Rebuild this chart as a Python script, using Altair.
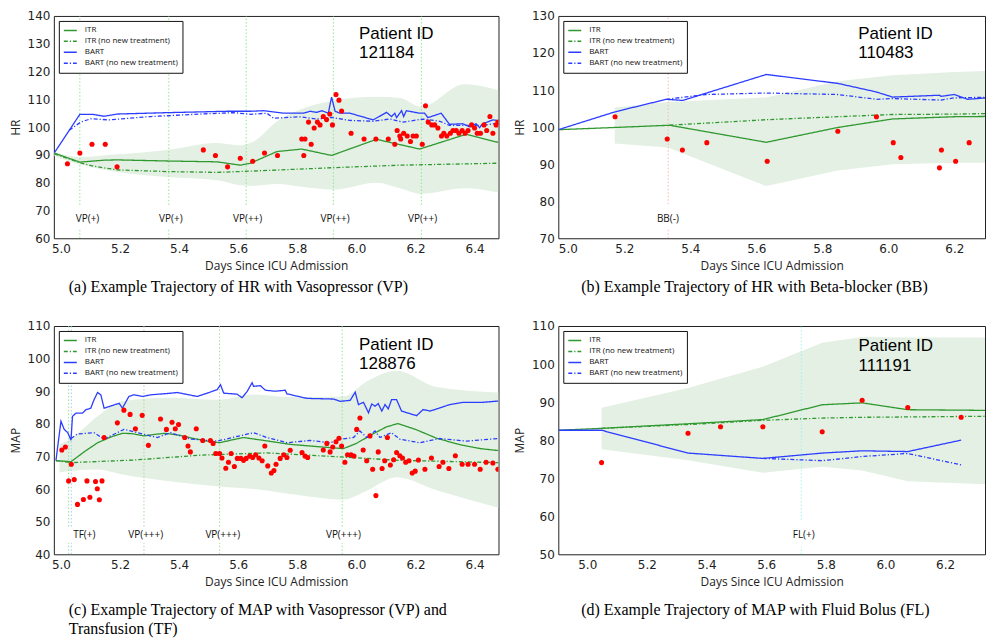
import altair as alt
import pandas as pd

SERIES = ["ITR", "ITR (no new treatment)", "BART", "BART (no new treatment)"]
SERIES_COLORS = ["#2f982f", "#2f982f", "#2c3dff", "#2c3dff"]
SERIES_DASH = [[1, 0], [4, 2, 1.2, 2], [1, 0], [4, 2, 1.2, 2]]
X_TITLE = "Days Since ICU Admission"

# ---------------- panel (a): HR with Vasopressor ----------------
A_TICKS_X = [5.0, 5.2, 5.4, 5.6, 5.8, 6.0, 6.2, 6.4]
A_TICKS_Y = [60, 70, 80, 90, 100, 110, 120, 130, 140]
A_ITR_X = [4.978, 5.064, 5.146, 5.191, 5.36, 5.529, 5.607, 5.641, 5.731, 5.815, 5.916, 6.068, 6.214, 6.371, 6.48]
A_ITR_Y = [90.6, 87.4, 88.1, 88.2, 87.8, 87.5, 86.3, 87.0, 91.2, 92.1, 89.8, 95.6, 92.1, 97.4, 94.5]
A_ITRNT_X = [4.978, 5.064, 5.112, 5.191, 5.36, 5.529, 5.675, 5.922, 6.147, 6.48]
A_ITRNT_Y = [90.4, 87.2, 85.9, 84.6, 84.0, 83.7, 84.3, 85.4, 86.3, 87.0]
A_BART_X = [4.978, 5.064, 5.107, 5.146, 5.191, 5.36, 5.562, 5.641, 5.686, 5.753, 5.821, 5.843, 5.866,
            5.883, 5.905, 5.916, 5.928, 5.944, 5.978, 6.057, 6.102, 6.119, 6.13, 6.136, 6.153, 6.16,
            6.169, 6.214, 6.231, 6.242, 6.287, 6.315, 6.36, 6.383, 6.405, 6.417, 6.428, 6.462, 6.481]
A_BART_Y = [90.8, 104.6, 104.6, 103.9, 104.7, 105.2, 105.7, 105.7, 105.9, 105.0, 105.0, 105.7, 105.3,
            105.9, 105.0, 110.8, 105.7, 105.0, 105.0, 102.6, 105.3, 103.8, 105.0, 103.4, 105.9, 103.8,
            105.9, 105.0, 105.0, 103.4, 105.0, 101.0, 101.2, 100.1, 101.2, 99.8, 101.2, 102.6, 102.3]
A_BARTNT_X = [5.028, 5.067, 5.101, 5.163, 5.304, 5.472, 5.585, 5.641, 5.697, 5.72, 5.81, 5.866, 5.916,
              5.978, 6.057, 6.113, 6.158, 6.225, 6.282, 6.315, 6.428, 6.479]
A_BARTNT_Y = [98.9, 101.8, 103.0, 102.6, 103.8, 104.7, 105.2, 104.6, 105.0, 103.2, 103.7, 102.9, 103.5,
              102.4, 102.1, 102.9, 101.8, 102.9, 102.1, 100.6, 100.6, 101.4]
A_BAND_X = [4.978, 5.064, 5.191, 5.36, 5.529, 5.607, 5.652, 5.731, 5.815, 5.922, 6.068, 6.147, 6.22, 6.366, 6.48]
A_BAND_HI = [91.0, 89.2, 90.2, 91.8, 94.3, 93.4, 94.8, 102.0, 106.5, 109.5, 110.9, 110.5, 107.3, 115.4, 113.3]
A_BAND_LO = [89.5, 86.5, 83.8, 82.0, 80.9, 79.1, 78.9, 79.5, 78.5, 77.5, 80.0, 78.0, 76.0, 78.0, 76.5]
A_PTS_X = [5.022, 5.064, 5.105, 5.15, 5.19, 5.482, 5.523, 5.564, 5.607, 5.649, 5.689, 5.733, 5.815, 5.826,
           5.822, 5.838, 5.847, 5.857, 5.868, 5.877, 5.888, 5.899, 5.91, 5.919, 5.931, 5.941, 5.95, 5.982,
           6.026, 6.066, 6.108, 6.13, 6.138, 6.147, 6.15, 6.16, 6.172, 6.183, 6.192, 6.203, 6.223, 6.234,
           6.243, 6.255, 6.265, 6.276, 6.288, 6.296, 6.306, 6.318, 6.327, 6.338, 6.347, 6.358, 6.368,
           6.378, 6.39, 6.4, 6.409, 6.42, 6.432, 6.441, 6.452, 6.462, 6.473, 6.479]
A_PTS_Y = [86.8, 90.7, 93.8, 93.8, 85.7, 91.8, 89.8, 85.7, 88.8, 87.7, 90.7, 89.8, 95.7, 95.7,
           89.8, 101.8, 93.8, 99.7, 101.8, 100.8, 103.8, 102.7, 104.7, 100.8, 111.7, 109.7, 105.8, 97.8,
           95.7, 95.7, 95.7, 93.8, 98.8, 96.8, 95.7, 97.8, 96.8, 94.8, 96.8, 96.8, 93.8, 107.7,
           101.8, 100.8, 100.8, 99.7, 96.8, 97.8, 96.8, 97.8, 98.8, 98.8, 97.8, 98.8, 97.8,
           98.8, 100.8, 99.7, 97.8, 97.8, 100.8, 98.8, 103.8, 97.8, 100.8, 101.8]
A_RULE_X = [5.064, 5.365, 5.627, 5.922, 6.22]
A_RULE_C = ["#8fe88f"] * 5
A_RULE_SEGS = [(72.0, 140.0), (60.0, 63.5)]
A_LAB_X = [5.090, 5.372, 5.632, 5.928, 6.224]
A_LAB_T = ["VP(+)", "VP(+)", "VP(++)", "VP(++)", "VP(++)"]
A_LAB_Y = 67.0
A_PID = ["Patient ID", "121184"]
A_PID_X = 6.009
A_PID_Y = [133.6, 126.6]

# ---------------- panel (b): HR with Beta-blocker ----------------
B_TICKS_X = [5.0, 5.2, 5.4, 5.6, 5.8, 6.0, 6.2]
B_TICKS_Y = [70, 80, 90, 100, 110, 120, 130]
B_ITR_X = [5.0, 5.171, 5.337, 5.63, 5.847, 6.013, 6.2, 6.33]
B_ITR_Y = [99.3, 99.9, 100.5, 95.9, 99.9, 102.2, 102.8, 102.9]
B_ITRNT_X = [5.337, 5.63, 5.847, 6.013, 6.2, 6.33]
B_ITRNT_Y = [100.5, 102.0, 102.8, 103.4, 103.5, 103.7]
B_BART_X = [5.0, 5.171, 5.327, 5.377, 5.63, 5.847, 5.963, 6.013, 6.155, 6.16, 6.2, 6.24, 6.33]
B_BART_Y = [99.3, 104.1, 107.5, 107.2, 114.2, 111.8, 109.5, 108.1, 108.6, 108.3, 108.8, 107.5, 108.1]
B_BARTNT_X = [5.327, 5.448, 5.63, 5.847, 5.963, 6.013, 6.16, 6.2, 6.33]
B_BARTNT_Y = [107.5, 108.8, 109.2, 108.8, 107.5, 107.7, 107.3, 107.9, 108.1]
B_BAND_X = [5.171, 5.332, 5.63, 5.847, 6.013, 6.2, 6.33]
B_BAND_HI = [105.3, 106.8, 108.0, 112.4, 114.0, 114.9, 115.2]
B_BAND_LO = [95.6, 94.5, 84.1, 88.3, 90.0, 90.4, 90.4]
B_PTS_X = [5.172, 5.33, 5.376, 5.45, 5.633, 5.847, 5.964, 6.015, 6.038, 6.155, 6.161, 6.204, 6.245]
B_PTS_Y = [102.8, 96.8, 93.8, 95.8, 90.8, 98.9, 102.8, 95.8, 91.8, 89.0, 93.8, 90.8, 95.8]
B_RULE_X = [5.333]
B_RULE_C = ["#ffb3b3"]
B_RULE_SEGS = [(79.2, 130.0), (70.0, 72.5)]
B_LAB_X = [5.332]
B_LAB_T = ["BB(-)"]
B_LAB_Y = 75.2
B_PID = ["Patient ID", "110483"]
B_PID_X = 5.909
B_PID_Y = [125.2, 120.0]

# ---------------- panel (c): MAP with Vasopressor and Transfusion ----------------
C_TICKS_X = [5.0, 5.2, 5.4, 5.6, 5.8, 6.0, 6.2, 6.4]
C_TICKS_Y = [40, 50, 60, 70, 80, 90, 100, 110]
C_ITR_X = [4.983, 5.034, 5.08, 5.124, 5.17, 5.208, 5.24, 5.281, 5.32, 5.354, 5.40, 5.45, 5.50, 5.537,
           5.58, 5.618, 5.68, 5.776, 5.87, 5.956, 6.0, 6.05, 6.10, 6.14, 6.2, 6.271, 6.35, 6.42, 6.481]
C_ITR_Y = [68.7, 68.4, 71.5, 74.2, 76.0, 77.1, 77.0, 76.3, 76.8, 77.1, 76.5, 75.5, 74.6, 74.2,
           75.1, 75.8, 75.0, 73.7, 73.0, 72.4, 74.0, 76.6, 79.0, 80.1, 78.3, 75.6, 73.6, 72.4, 71.8]
C_ITRNT_X = [4.983, 5.034, 5.247, 5.472, 5.697, 5.956, 6.147, 6.481]
C_ITRNT_Y = [68.7, 68.1, 68.9, 70.4, 71.1, 69.8, 68.8, 68.1]
C_BART_X = [4.983, 5.0, 5.011, 5.023, 5.034, 5.039, 5.051, 5.073, 5.084, 5.101, 5.112, 5.124, 5.135,
            5.146, 5.18, 5.197, 5.208, 5.23, 5.247, 5.276, 5.304, 5.36, 5.394, 5.461, 5.495, 5.529,
            5.54, 5.551, 5.596, 5.613, 5.63, 5.647, 5.652, 5.675, 5.692, 5.725, 5.759, 5.765, 5.833,
            5.923, 5.945, 5.979, 5.996, 6.007, 6.024, 6.041, 6.052, 6.063, 6.074, 6.086, 6.097, 6.108,
            6.119, 6.136, 6.153, 6.204, 6.226, 6.249, 6.283, 6.316, 6.361, 6.428, 6.481]
C_BART_Y = [68.7, 80.8, 78.3, 77.3, 75.0, 82.3, 83.3, 83.3, 84.3, 84.8, 87.4, 89.6, 88.9,
            84.8, 85.8, 86.3, 84.8, 88.4, 88.9, 88.4, 88.9, 89.3, 89.6, 88.4, 89.4, 90.5,
            92.0, 89.4, 89.1, 88.0, 89.9, 92.6, 91.5, 91.7, 90.3, 90.0, 90.3, 89.2, 87.8,
            87.6, 86.9, 87.2, 89.7, 85.9, 86.6, 83.4, 86.1, 85.4, 86.2, 83.9, 85.9, 84.6,
            87.4, 87.4, 83.9, 82.5, 84.4, 83.9, 84.9, 85.9, 86.6, 86.6, 87.0]
C_BARTNT_X = [5.034, 5.056, 5.112, 5.146, 5.213, 5.326, 5.371, 5.439, 5.529, 5.652, 5.697, 5.765, 5.843,
              5.911, 5.945, 5.99, 6.012, 6.035, 6.063, 6.08, 6.119, 6.147, 6.214, 6.282, 6.372, 6.481]
C_BARTNT_Y = [75.5, 76.9, 77.3, 75.3, 78.3, 75.8, 77.3, 75.3, 74.7, 77.3, 75.8, 74.2, 74.9,
              74.2, 75.3, 75.8, 77.8, 75.8, 77.8, 75.8, 77.3, 75.3, 74.2, 75.5, 74.7, 75.5]
C_BAND_X = [4.995, 5.034, 5.124, 5.208, 5.36, 5.537, 5.652, 5.776, 5.956, 6.035, 6.136, 6.271, 6.481]
C_BAND_HI = [73.7, 75.5, 82.3, 86.9, 88.0, 87.4, 89.0, 88.2, 88.4, 93.0, 96.3, 91.3, 89.6]
C_BAND_LO = [65.1, 65.6, 66.0, 64.5, 62.5, 60.8, 60.0, 58.5, 56.8, 59.5, 63.6, 59.6, 54.3]
C_PTS_X = [5.003, 5.015, 5.026, 5.035, 5.045, 5.056, 5.076, 5.088, 5.098, 5.117, 5.123, 5.13, 5.139,
           5.146, 5.191, 5.213, 5.234, 5.252, 5.275, 5.296, 5.316, 5.337, 5.357, 5.376, 5.387, 5.398,
           5.419, 5.43, 5.438, 5.458, 5.48, 5.506, 5.515, 5.524, 5.537, 5.545, 5.558, 5.567, 5.576,
           5.587, 5.597, 5.609, 5.618, 5.627, 5.639, 5.649, 5.659, 5.67, 5.681, 5.69, 5.7, 5.712,
           5.721, 5.728, 5.742, 5.754, 5.765, 5.776, 5.816, 5.826, 5.835, 5.888, 5.9, 5.911, 5.92,
           5.931, 5.941, 5.95, 5.961, 5.97, 5.982, 5.992, 6.001, 6.012, 6.023, 6.035, 6.046, 6.055,
           6.066, 6.074, 6.087, 6.096, 6.105, 6.115, 6.126, 6.136, 6.147, 6.156, 6.167, 6.178, 6.189,
           6.199, 6.21, 6.232, 6.254, 6.28, 6.293, 6.313, 6.335, 6.358, 6.378, 6.4, 6.419, 6.439,
           6.462, 6.479]
C_PTS_Y = [72.0, 72.9, 62.5, 67.6, 62.9, 55.3, 56.8, 62.5, 57.5, 62.3, 60.1, 56.7, 62.5,
           75.8, 80.3, 84.2, 82.9, 78.5, 82.6, 73.4, 93.2, 81.5, 78.3, 80.5, 78.5, 79.8,
           75.8, 73.2, 71.4, 78.5, 74.9, 74.9, 74.0, 70.9, 70.9, 69.5, 66.4, 68.2, 70.9,
           66.9, 69.4, 69.4, 68.8, 69.4, 70.1, 69.7, 70.5, 69.5, 68.7, 73.2, 67.1, 64.9,
           65.7, 67.6, 69.4, 70.5, 69.7, 71.9, 71.2, 70.1, 69.7, 72.0, 74.0, 71.4, 72.9,
           74.5, 75.6, 73.2, 68.2, 70.5, 70.5, 70.1, 78.3, 81.8, 72.0, 68.7, 76.3, 66.1,
           58.0, 71.4, 66.3, 68.7, 75.8, 67.4, 69.0, 71.2, 70.2, 69.5, 68.2, 68.7, 64.9,
           65.5, 68.9, 66.1, 69.5, 66.9, 68.2, 66.3, 70.2, 67.6, 67.6, 67.6, 66.1, 68.2,
           68.0, 66.1]
C_RULE_X = [5.026, 5.035, 5.281, 5.537, 5.952]
C_RULE_C = ["#8fe88f", "#a8c8ff", "#a8d8a0", "#a8d8a0", "#8fe88f"]
C_RULE_SEGS = [(48.5, 110.0), (40.0, 43.5)]
C_LAB_X = [5.079, 5.287, 5.548, 5.956]
C_LAB_T = ["TF(+)", "VP(+++)", "VP(+++)", "VP(+++)"]
C_LAB_Y = 45.9
C_PID = ["Patient ID", "128876"]
C_PID_X = 6.009
C_PID_Y = [104.1, 98.3]

# ---------------- panel (d): MAP with Fluid Bolus ----------------
D_TICKS_X = [5.0, 5.2, 5.4, 5.6, 5.8, 6.0, 6.2]
D_TICKS_Y = [50, 60, 70, 80, 90, 100, 110]
D_ITR_X = [4.904, 5.048, 5.338, 5.589, 5.788, 5.922, 6.075, 6.372]
D_ITR_Y = [82.6, 83.1, 84.3, 85.4, 89.3, 89.8, 88.0, 87.8]
D_ITRNT_X = [5.048, 5.338, 5.589, 5.788, 5.922, 6.075, 6.372]
D_ITRNT_Y = [83.1, 84.1, 85.2, 85.8, 86.0, 86.1, 86.3]
D_BART_X = [4.904, 5.048, 5.338, 5.589, 5.788, 5.922, 6.075, 6.254]
D_BART_Y = [82.6, 82.6, 76.6, 75.2, 76.6, 77.2, 77.0, 80.0]
D_BARTNT_X = [5.589, 5.788, 5.922, 6.075, 6.254]
D_BARTNT_Y = [75.2, 74.6, 75.7, 76.5, 73.5]
D_BAND_X = [5.048, 5.338, 5.589, 5.788, 5.922, 6.075, 6.372]
D_BAND_HI = [88.5, 93.7, 99.3, 105.6, 107.1, 107.0, 107.0]
D_BAND_LO = [77.6, 74.7, 71.4, 73.0, 72.0, 69.2, 68.3]
D_PTS_X = [5.048, 5.338, 5.447, 5.589, 5.788, 5.922, 6.075, 6.254]
D_PTS_Y = [74.1, 81.8, 83.5, 83.5, 82.2, 90.5, 88.6, 86.0]
D_RULE_X = [5.718]
D_RULE_C = ["#a6f0f0"]
D_RULE_SEGS = [(59.0, 110.0), (50.0, 52.0)]
D_LAB_X = [5.726]
D_LAB_T = ["FL(+)"]
D_LAB_Y = 55.0
D_PID = ["Patient ID", "111191"]
D_PID_X = 5.91
D_PID_Y = [104.7, 99.5]


def series_df(itr_x, itr_y, itrnt_x, itrnt_y, bart_x, bart_y, bartnt_x, bartnt_y):
    rows = []
    for name, xs, ys in zip(SERIES, [itr_x, itrnt_x, bart_x, bartnt_x], [itr_y, itrnt_y, bart_y, bartnt_y]):
        for x, y in zip(xs, ys):
            rows.append({"day": x, "val": y, "series": name})
    return pd.DataFrame(rows)


def rules_df(xs, colors, segs):
    rows = []
    for x, c in zip(xs, colors):
        for lo, hi in segs:
            rows.append({"day": x, "val": lo, "val2": hi, "c": c})
    return pd.DataFrame(rows)


def build_panel(xdom, xticks, ydom, yticks, ytitle, width, height,
                band_x, band_lo, band_hi, band_interp, lines, pts_x, pts_y,
                rule_x, rule_c, rule_segs, lab_x, lab_t, lab_y,
                pid_t, pid_x, pid_y, caption, cap_dx, cap_offset):
    xscale = alt.Scale(domain=xdom, nice=False, zero=False)
    yscale = alt.Scale(domain=ydom, nice=False, zero=False)
    xaxis = alt.Axis(values=xticks, format=".1f", title=X_TITLE, labelPadding=5, titlePadding=6)
    yaxis = alt.Axis(values=yticks, title=ytitle, labelPadding=4, titlePadding=5)
    X = alt.X("day:Q", scale=xscale, axis=xaxis)
    Y = alt.Y("val:Q", scale=yscale, axis=yaxis)

    band = alt.Chart(pd.DataFrame({"day": band_x, "val": band_lo, "val2": band_hi})).mark_area(
        color="#e3f0e3", opacity=1, interpolate=band_interp, clip=True
    ).encode(x=X, y=Y, y2="val2:Q")

    rules = alt.Chart(rules_df(rule_x, rule_c, rule_segs)).mark_rule(
        strokeDash=[1.5, 2], strokeWidth=1, clip=True
    ).encode(x=X, y=Y, y2="val2:Q", stroke=alt.Stroke("c:N", scale=None))

    labels = alt.Chart(pd.DataFrame({"day": lab_x, "val": [lab_y] * len(lab_x), "t": lab_t})).mark_text(
        font="Open Sans", fontSize=10, color="#111111", baseline="middle", align="center"
    ).encode(x=X, y=Y, text="t:N")

    leg = alt.Legend(
        title=None, orient="top-left", offset=5, symbolType="stroke", symbolSize=169,
        symbolStrokeWidth=1.5, labelFont="Open Sans", labelFontSize=8, labelColor="#111111",
        strokeColor="#111111", fillColor="white", padding=4, rowPadding=0, clipHeight=11,
        labelOffset=7, cornerRadius=0,
    )
    line_layer = alt.Chart(lines).mark_line(strokeWidth=1.3, clip=True).encode(
        x=X, y=Y,
        color=alt.Color("series:N", scale=alt.Scale(domain=SERIES, range=SERIES_COLORS), legend=leg),
        strokeDash=alt.StrokeDash("series:N", scale=alt.Scale(domain=SERIES, range=SERIES_DASH), legend=leg),
    )

    points = alt.Chart(pd.DataFrame({"day": pts_x, "val": pts_y})).mark_circle(
        color="#ff0000", size=26, opacity=1, clip=True
    ).encode(x=X, y=Y)

    pid = alt.Chart(pd.DataFrame({"day": [pid_x] * 2, "val": pid_y, "t": pid_t})).mark_text(
        font="Liberation Sans", fontSize=17, color="#000000", align="left", baseline="middle"
    ).encode(x=X, y=Y, text="t:N")

    return alt.layer(band, rules, labels, line_layer, points, pid).properties(
        width=width, height=height,
        title=alt.TitleParams(
            text=caption, orient="bottom", anchor="start", frame="group", dx=cap_dx,
            offset=cap_offset, font="Liberation Serif", fontSize=16, fontWeight="normal",
            color="#000000", lineHeight=19,
        ),
    )


pa = build_panel([4.976, 6.481], A_TICKS_X, [60, 140], A_TICKS_Y, "HR", 446, 223,
                 A_BAND_X, A_BAND_LO, A_BAND_HI, "monotone",
                 series_df(A_ITR_X, A_ITR_Y, A_ITRNT_X, A_ITRNT_Y, A_BART_X, A_BART_Y, A_BARTNT_X, A_BARTNT_Y),
                 A_PTS_X, A_PTS_Y, A_RULE_X, A_RULE_C, A_RULE_SEGS, A_LAB_X, A_LAB_T, A_LAB_Y,
                 A_PID, A_PID_X, A_PID_Y,
                 "(a) Example Trajectory of HR with Vasopressor (VP)", 15, 8)

pb = build_panel([5.0, 6.293], B_TICKS_X, [70, 130], B_TICKS_Y, "HR", 428, 223,
                 B_BAND_X, B_BAND_LO, B_BAND_HI, "linear",
                 series_df(B_ITR_X, B_ITR_Y, B_ITRNT_X, B_ITRNT_Y, B_BART_X, B_BART_Y, B_BARTNT_X, B_BARTNT_Y),
                 B_PTS_X, B_PTS_Y, B_RULE_X, B_RULE_C, B_RULE_SEGS, B_LAB_X, B_LAB_T, B_LAB_Y,
                 B_PID, B_PID_X, B_PID_Y,
                 "(b) Example Trajectory of HR with Beta-blocker (BB)", 23, 8)

pc = build_panel([4.976, 6.481], C_TICKS_X, [40, 110], C_TICKS_Y, "MAP", 446, 229,
                 C_BAND_X, C_BAND_LO, C_BAND_HI, "monotone",
                 series_df(C_ITR_X, C_ITR_Y, C_ITRNT_X, C_ITRNT_Y, C_BART_X, C_BART_Y, C_BARTNT_X, C_BARTNT_Y),
                 C_PTS_X, C_PTS_Y, C_RULE_X, C_RULE_C, C_RULE_SEGS, C_LAB_X, C_LAB_T, C_LAB_Y,
                 C_PID, C_PID_X, C_PID_Y,
                 ["(c) Example Trajectory of MAP with Vasopressor (VP) and", "Transfusion (TF)"], 15, 15)

pd_ = build_panel([4.903, 6.334], D_TICKS_X, [50, 110], D_TICKS_Y, "MAP", 428, 229,
                  D_BAND_X, D_BAND_LO, D_BAND_HI, "linear",
                  series_df(D_ITR_X, D_ITR_Y, D_ITRNT_X, D_ITRNT_Y, D_BART_X, D_BART_Y, D_BARTNT_X, D_BARTNT_Y),
                  D_PTS_X, D_PTS_Y, D_RULE_X, D_RULE_C, D_RULE_SEGS, D_LAB_X, D_LAB_T, D_LAB_Y,
                  D_PID, D_PID_X, D_PID_Y,
                  "(d) Example Trajectory of MAP with Fluid Bolus (FL)", 23, 15)

RES = dict(x="independent", y="independent", color="independent", strokeDash="independent")
row1 = alt.hconcat(pa, pb, spacing=13).resolve_scale(**RES)
row2 = alt.hconcat(pc, pd_, spacing=13).resolve_scale(**RES)

chart = alt.vconcat(row1, row2, spacing=23).resolve_scale(**RES).properties(
    padding={"left": 0, "top": 0, "right": 0, "bottom": 0}
).configure_view(
    stroke="#222222", strokeWidth=1
).configure_axis(
    labelFont="DejaVu Sans", labelFontSize=12, labelColor="#222222",
    titleFont="Open Sans", titleFontSize=12, titleFontWeight="normal", titleColor="#222222",
    grid=False, ticks=False, domain=False,
)

chart.save("out.html", embed_options={"renderer": "svg", "actions": False})
